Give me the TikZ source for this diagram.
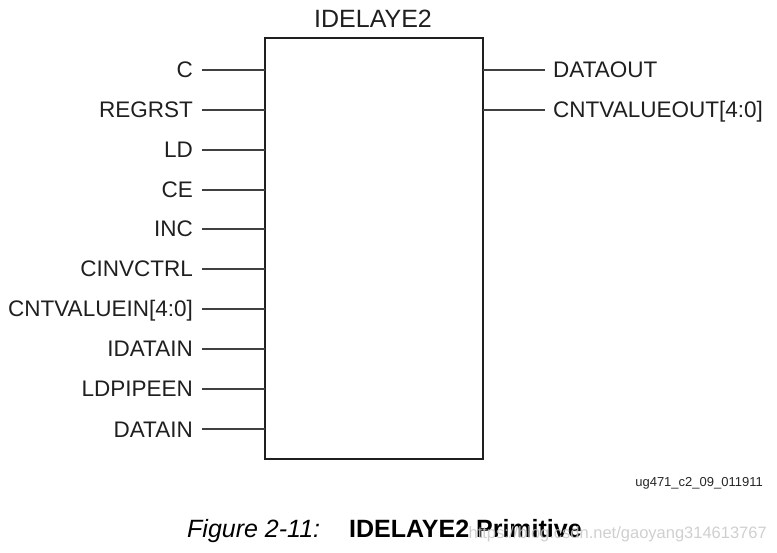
\documentclass[tikz,border=0pt]{standalone}
\usepackage{fontspec}
\setmainfont{Liberation Sans}
\begin{document}
\begin{tikzpicture}[x=1pt,y=-1pt,
  pinline/.style={line width=1.1pt, draw=black!75},
  lbl/.style={inner sep=0pt, font=\fontsize{22.5}{27}\selectfont, text=black!88},
  blockbox/.style={draw=black!88, line width=2pt, minimum width=218pt, minimum height=421pt, inner sep=0pt, outer sep=0pt}]
\useasboundingbox (0,0) rectangle (777,553);
\node[blockbox] (box) at (374,248.5) {};
\node[lbl, anchor=base, font=\fontsize{25}{30}\selectfont] (title) at (373,28) {IDELAYE2};
\foreach \nm/\y [count=\i] in {C/70, REGRST/110, LD/150, CE/190, INC/229, CINVCTRL/269, {CNTVALUEIN[4:0]}/309, IDATAIN/349, LDPIPEEN/389, DATAIN/429}{
  \node[lbl, anchor=base east] (l\i) at (193,\y+8) {\nm};
  \coordinate (p\i) at (202,\y);
  \draw[pinline] (p\i) -- (p\i -| box.west);
}
\foreach \nm/\y [count=\i] in {DATAOUT/70, {CNTVALUEOUT[4:0]}/110}{
  \node[lbl, anchor=base west] (r\i) at (553,\y+8) {\nm};
  \coordinate (q\i) at (545,\y);
  \draw[pinline] (q\i -| box.east) -- (q\i);
}
\node[inner sep=0pt, anchor=base east, font=\fontsize{13}{15}\selectfont, text=black!85] (code) at (763,486) {ug471\_c2\_09\_011911};
\node[inner sep=0pt, anchor=base west, font=\fontsize{25}{30}\selectfont\itshape] (fig) at (187,537) {Figure 2-11:};
\node[inner sep=0pt, anchor=base west, font=\fontsize{25}{30}\selectfont\bfseries] (cap) at (349,537) {IDELAYE2 Primitive};
\node[inner sep=0pt, anchor=base east, font=\fontsize{16.5}{20}\selectfont, text=black!22, opacity=0.85] (wm) at (767,538) {https://blog.csdn.net/gaoyang314613767};
\end{tikzpicture}
\end{document}
